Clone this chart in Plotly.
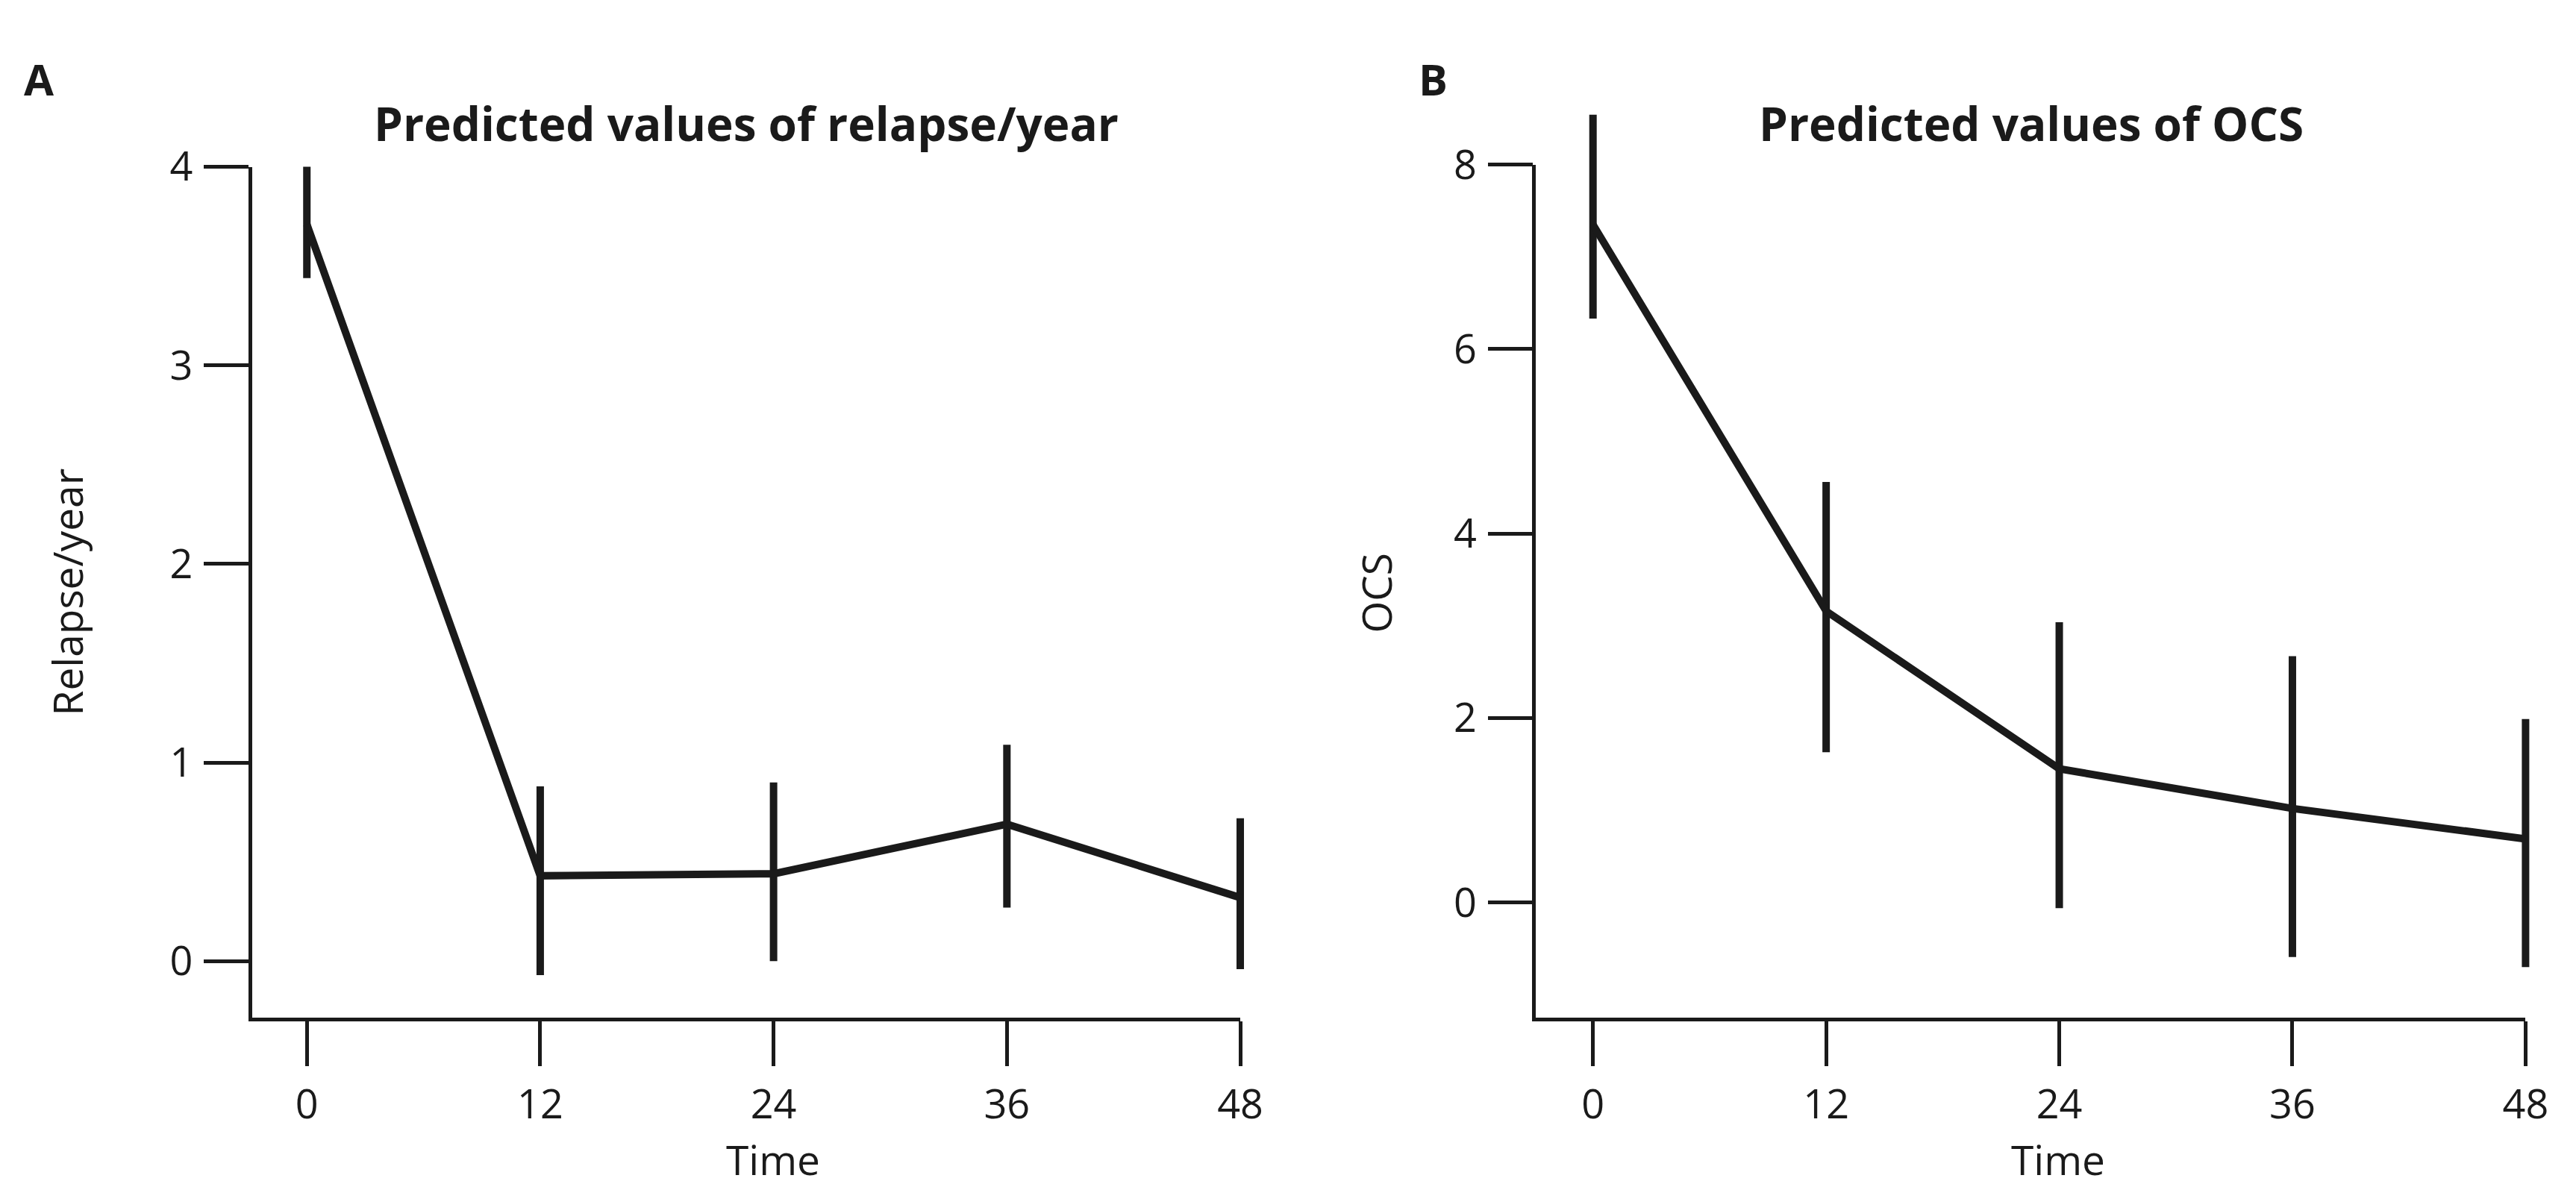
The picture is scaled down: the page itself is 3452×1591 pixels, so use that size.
import plotly.graph_objects as go

# ---------------- data ----------------
time = [0, 12, 24, 36, 48]
x_ticks = [0, 12, 24, 36, 48]

relapse_mean = [3.71, 0.43, 0.44, 0.69, 0.32]
relapse_lo = [3.44, -0.07, 0.00, 0.27, -0.04]
relapse_hi = [4.00, 0.88, 0.90, 1.09, 0.72]
relapse_yticks = [0, 1, 2, 3, 4]

ocs_mean = [7.35, 3.16, 1.45, 1.02, 0.69]
ocs_lo = [6.33, 1.63, -0.06, -0.59, -0.70]
ocs_hi = [8.54, 4.56, 3.04, 2.67, 1.99]
ocs_yticks = [0, 2, 4, 6, 8]

# ---------------- layout constants ----------------
W, H = 3452, 1591
INK = "#1a1a1a"
FONT = "Open Sans"


def fx(px):
    return px / W


def fy(py):
    return 1 - py / H


fig = go.Figure()


def panel(idx, left_px, right_px, bottom_px, top_px, xr, yr, yticks,
          mean, lo, hi, data_right_px, data_top_px):
    ax_dec = 2 * idx - 1
    ax_dat = 2 * idx
    xk_dec = "xaxis" if ax_dec == 1 else "xaxis%d" % ax_dec
    yk_dec = "yaxis" if ax_dec == 1 else "yaxis%d" % ax_dec
    xk_dat = "xaxis%d" % ax_dat
    yk_dat = "yaxis%d" % ax_dat
    xref_dec = "x" if ax_dec == 1 else "x%d" % ax_dec
    yref_dec = "y" if ax_dec == 1 else "y%d" % ax_dec

    common_tick = dict(
        ticks="outside", ticklen=60, tickwidth=4.5, tickcolor=INK,
        showline=True, linewidth=4.5, linecolor=INK, showgrid=False,
        zeroline=False, tickfont=dict(family=FONT, size=54, color=INK),
    )
    # L-shaped axis lines and ticks, spanning exactly the tick range
    fig.layout[xk_dec] = dict(
        domain=[fx(left_px), fx(right_px)], range=list(xr),
        anchor=yref_dec, tickvals=x_ticks, ticklabelstandoff=6, **common_tick)
    fig.layout[yk_dec] = dict(
        domain=[fy(bottom_px), fy(top_px)], range=list(yr),
        anchor=xref_dec, tickvals=yticks, ticklabelstandoff=4, **common_tick)
    fig.add_trace(go.Scatter(x=[xr[0]], y=[yr[0]], mode="markers",
                             marker=dict(opacity=0), showlegend=False,
                             hoverinfo="skip", xaxis=xref_dec, yaxis=yref_dec))

    # data axes: same scale, larger area so nothing is clipped
    ppx = (right_px - left_px) / (xr[1] - xr[0])
    ppy = (bottom_px - top_px) / (yr[1] - yr[0])
    fig.layout[xk_dat] = dict(
        domain=[fx(left_px), fx(data_right_px)],
        range=[xr[0], xr[0] + (data_right_px - left_px) / ppx],
        anchor="y%d" % ax_dat, visible=False, showgrid=False, zeroline=False)
    fig.layout[yk_dat] = dict(
        domain=[fy(bottom_px), fy(data_top_px)],
        range=[yr[0], yr[0] + (bottom_px - data_top_px) / ppy],
        anchor="x%d" % ax_dat, visible=False, showgrid=False, zeroline=False)

    fig.add_trace(go.Scatter(
        x=time, y=mean, mode="lines",
        line=dict(color=INK, width=10),
        error_y=dict(type="data", symmetric=False,
                     array=[h - m for h, m in zip(hi, mean)],
                     arrayminus=[m - l for m, l in zip(mean, lo)],
                     color=INK, thickness=10, width=0),
        showlegend=False, hoverinfo="x+y",
        xaxis="x%d" % ax_dat, yaxis="y%d" % ax_dat))


panel(1, 333, 1669, 1350, 181, (-2.81, 48), (-0.284, 4), relapse_yticks,
      relapse_mean, relapse_lo, relapse_hi, 1720, 100)
panel(2, 2069, 3407, 1350, 178, (-2.93, 48), (-1.247, 8), ocs_yticks,
      ocs_mean, ocs_lo, ocs_hi, 3445, 80)

ann = []


def text(s, xpx, ypx, size, bold=False, angle=0):
    ann.append(dict(
        text=("<b>%s</b>" % s) if bold else s, x=fx(xpx), y=fy(ypx),
        xref="paper", yref="paper", showarrow=False, xanchor="center",
        yanchor="middle", textangle=angle,
        font=dict(family=FONT, size=size, color=INK)))


text("A", 45, 60, 58, bold=True)
text("B", 1930, 60, 58, bold=True)
text("Predicted values of relapse/year", 1001, 121, 62, bold=True)
text("Predicted values of OCS", 2739, 121, 62, bold=True)
text("Time", 1037, 1544, 55)
text("Time", 2775, 1544, 55)
text("Relapse/year", 82, 765, 55, angle=-90)
text("OCS", 1852, 766, 55, angle=-90)

fig.update_layout(
    width=W, height=H, margin=dict(l=0, r=0, t=0, b=0),
    paper_bgcolor="white", plot_bgcolor="rgba(0,0,0,0)",
    annotations=ann, showlegend=False,
)

fig.write_html("out.html")
